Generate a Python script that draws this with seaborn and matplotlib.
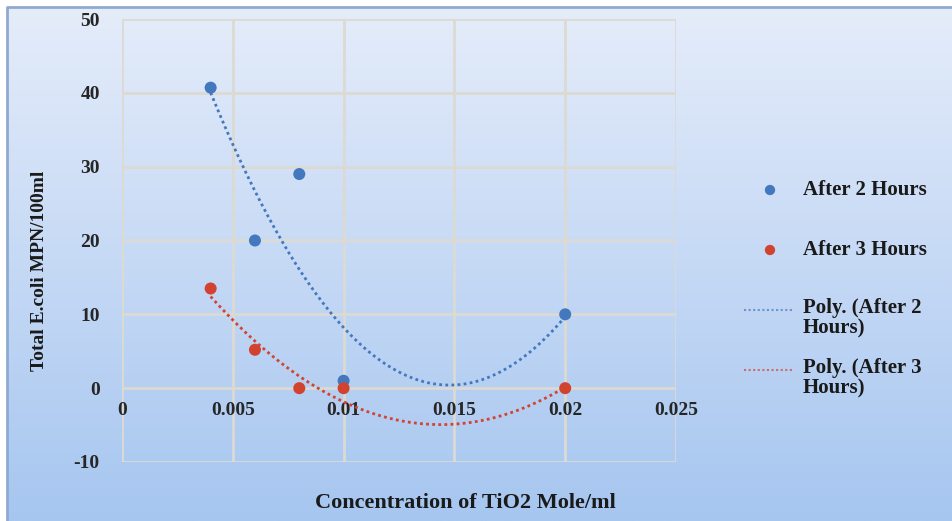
import numpy as np
import matplotlib as mpl
mpl.use('Agg')

import matplotlib.pyplot as plt
import seaborn as sns
import pandas as pd

# data
conc = [0.004, 0.006, 0.008, 0.01, 0.02]
after_2h = [40.7, 20.0, 29.0, 1.0, 10.0]
after_3h = [13.5, 5.2, 0.0, 0.0, 0.0]
x_ticks = [0, 0.005, 0.01, 0.015, 0.02, 0.025]
x_tick_labels = ['0', '0.005', '0.01', '0.015', '0.02', '0.025']
y_ticks = [-10, 0, 10, 20, 30, 40, 50]

blue = '#4378bf'
red = '#d2432f'
serif = ['Liberation Serif', 'DejaVu Serif']

sns.set_style("white")
plt.rcParams['font.family'] = serif
plt.rcParams['font.weight'] = 'bold'
plt.rcParams['axes.unicode_minus'] = False
plt.rcParams['text.color'] = '#1a1a1a'

df = pd.DataFrame({'conc': conc * 2,
                   'count': after_2h + after_3h,
                   'series': ['After 2 Hours'] * 5 + ['After 3 Hours'] * 5})

# 2nd order polynomial trendlines, as in Excel
xs = np.linspace(min(conc), max(conc), 200)
fits = []
for name, ys in [('Poly. (After 2\nHours)', after_2h), ('Poly. (After 3\nHours)', after_3h)]:
    p = np.polyfit(conc, ys, 2)
    fits.append(pd.DataFrame({'conc': xs, 'count': np.polyval(p, xs), 'series': name}))
fit_df = pd.concat(fits)

fig = plt.figure(figsize=(9.52, 5.21), dpi=100)

# gradient background panel
bg = fig.add_axes([0, 0, 1, 1], zorder=0)
top = np.array([230, 237, 250]) / 255
bot = np.array([166, 198, 240]) / 255
t = np.linspace(0, 1, 256)[:, None]
grad = top * (1 - t[..., None]) + bot * t[..., None]
grad = np.repeat(grad, 2, axis=1)
bg.imshow(grad, aspect='auto', extent=[0, 1, 0, 1], origin='upper')
bg.plot([7 / 952, 7 / 952, 1], [0, 1 - 7 / 521, 1 - 7 / 521], color='#8faad0', lw=2)
bg.fill_between([0, 1], 1 - 6 / 521, 1, color='white')
bg.fill_between([0, 6 / 952], 0, 1, color='white')
bg.set_xlim(0, 1)
bg.set_ylim(0, 1)
bg.axis('off')

ax = fig.add_axes([122 / 952, 1 - 462 / 521, (676 - 122) / 952, (462 - 19) / 521], zorder=1)
ax.patch.set_alpha(0)

sns.lineplot(data=fit_df, x='conc', y='count', hue='series', palette=[blue, red],
             linestyle=(0, (1, 1.2)), linewidth=2, ax=ax, legend=False)
sns.scatterplot(data=df, x='conc', y='count', hue='series', palette=[blue, red],
                s=75, edgecolor='none', ax=ax, legend=False, zorder=3)

ax.set_xlim(0, 0.025)
ax.set_ylim(-10, 50)
ax.grid(True, color='#dcdad2', lw=2)
for s in ax.spines.values():
    s.set_visible(False)
# x axis crosses at y = 0, labels sit just under it
ax.spines['bottom'].set_position(('data', 0))
ax.set_xticks(x_ticks)
ax.set_yticks(y_ticks)
ax.set_xticklabels(x_tick_labels, fontweight='bold', fontsize=14)
ax.set_yticklabels([str(v) for v in y_ticks], fontweight='bold', fontsize=14)
ax.tick_params(length=0)
ax.tick_params(axis='y', pad=16)
ax.tick_params(axis='x', pad=10)
ax.set_xlabel('')
ax.set_ylabel('')

fig.text(40 / 952, 1 - 271 / 521, 'Total E.coli MPN/100ml', rotation=90, ha='center', va='center',
         fontsize=14, fontweight='bold')
fig.text(465 / 952, 1 - 503 / 521, 'Concentration of TiO2 Mole/ml', ha='center', va='center',
         fontsize=16, fontweight='bold')

# legend
leg = [('After 2 Hours', blue, 'marker', 190),
       ('After 3 Hours', red, 'marker', 250),
       ('Poly. (After 2\nHours)', blue, 'line', 318),
       ('Poly. (After 3\nHours)', red, 'line', 378)]
for label, c, kind, py in leg:
    yy = 1 - py / 521
    if kind == 'marker':
        bg.scatter([770 / 952], [yy], s=55, color=c, edgecolor='none', zorder=3)
        bg.text(803 / 952, yy, label, ha='left', va='center', fontsize=15, fontweight='bold')
    else:
        y0 = 1 - (py - 8) / 521
        bg.plot([744 / 952, 794 / 952], [y0, y0], color=c, lw=1.5, linestyle=(0, (1, 1.2)), alpha=0.7)
        bg.text(803 / 952, yy, label, ha='left', va='center', fontsize=15, fontweight='bold',
                linespacing=1.0)

fig.savefig('out.png', dpi=100)
